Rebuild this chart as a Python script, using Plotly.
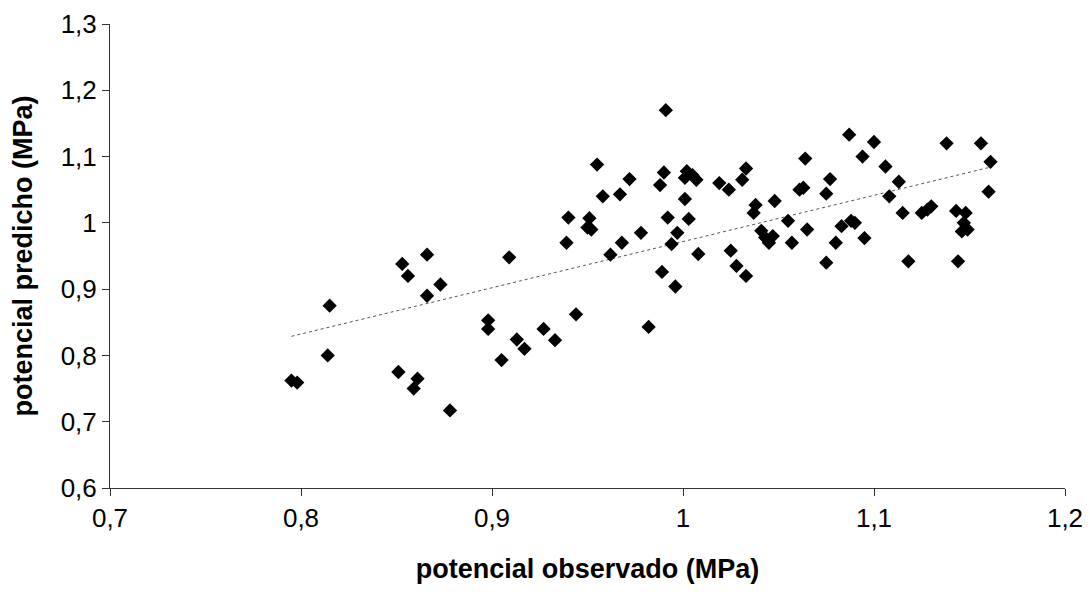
import numpy as np
import plotly.graph_objects as go

obs = [0.795,0.798,0.815,0.814,0.851,0.853,0.856,0.859,0.861,0.866,0.866,0.873,0.878,
       0.898,0.898,0.905,0.909,0.913,0.917,0.927,0.933,0.939,0.940,0.944,0.950,0.951,0.952,0.955,0.958,0.962,
       0.967,0.968,0.972,0.978,0.982,0.988,0.990,0.989,0.991,0.992,0.994,0.996,0.997,1.001,1.001,1.002,1.003,
       1.005,1.007,1.008,1.019,1.024,1.025,1.028,1.031,1.033,1.033,1.037,1.038,1.041,1.043,1.045,1.047,1.048,
       1.055,1.057,1.061,1.063,1.064,1.065,1.075,1.075,1.077,1.080,1.083,1.087,1.088,1.090,1.094,1.095,1.100,
       1.106,1.108,1.113,1.115,1.118,1.125,1.128,1.130,1.138,1.143,1.144,1.146,1.147,1.148,1.149,1.156,1.160,1.161]
pred = [0.762,0.759,0.875,0.800,0.775,0.938,0.920,0.750,0.765,0.952,0.890,0.907,0.717,
        0.853,0.840,0.793,0.948,0.824,0.810,0.840,0.823,0.970,1.008,0.862,0.993,1.007,0.990,1.088,1.040,0.952,
        1.043,0.970,1.066,0.985,0.843,1.057,1.076,0.926,1.170,1.008,0.968,0.904,0.985,1.068,1.036,1.078,1.006,
        1.072,1.065,0.953,1.060,1.050,0.958,0.935,1.065,1.082,0.920,1.015,1.027,0.988,0.978,0.970,0.980,1.033,
        1.003,0.970,1.050,1.053,1.097,0.990,0.940,1.044,1.066,0.970,0.995,1.133,1.003,1.000,1.100,0.977,1.122,
        1.085,1.040,1.062,1.015,0.942,1.015,1.020,1.025,1.120,1.018,0.942,0.987,1.000,1.015,0.990,1.120,1.047,1.092]

x = np.array(obs); y = np.array(pred)
m, b = np.polyfit(x, y, 1)
xl = np.array([x.min(), x.max()])

fig = go.Figure()
fig.add_trace(go.Scatter(x=xl, y=m*xl+b, mode="lines",
                         line=dict(color="#555555", width=1, dash="dot"), hoverinfo="skip"))
fig.add_trace(go.Scatter(x=obs, y=pred, mode="markers",
                         marker=dict(symbol="diamond", size=11, color="black")))
F = "Liberation Sans, Arial"
axis = dict(showgrid=False, zeroline=False, showline=True, linecolor="#333333", linewidth=1,
            ticks="outside", ticklen=7, tickcolor="#333333", automargin=False,
            tickfont=dict(family=F, size=26, color="black"))
fig.update_layout(
    width=1082, height=576, showlegend=False, separators=",.",
    plot_bgcolor="white", paper_bgcolor="white",
    margin=dict(l=102, r=25, t=16, b=96),
    xaxis=dict(axis, range=[0.7, 1.2], dtick=0.1,
               title=dict(text="<b>potencial observado (MPa)</b>", standoff=36,
                          font=dict(family=F, size=27, color="black"))),
    yaxis=dict(axis, range=[0.6, 1.3], dtick=0.1,
               title=dict(text="<b>potencial predicho (MPa)</b>", standoff=20,
                          font=dict(family=F, size=27, color="black"))),
)
fig.write_html("out.html")
